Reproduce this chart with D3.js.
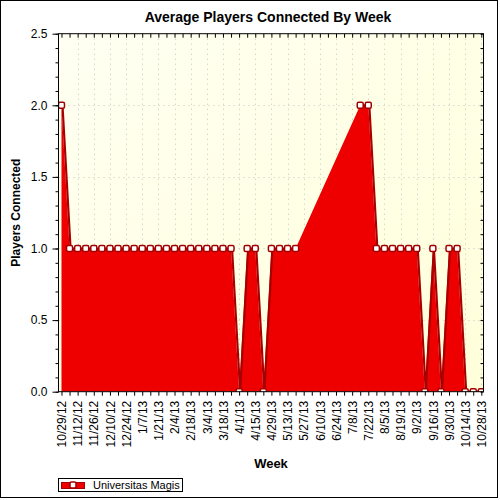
<!DOCTYPE html>
<html>
<head>
<meta charset="utf-8">
<script src="https://cdn.jsdelivr.net/npm/d3@7"></script>
<style>
  html, body { margin: 0; padding: 0; background: #fff; }
  svg { display: block; font-family: "Liberation Sans", Arial, sans-serif; }
</style>
</head>
<body>
<svg id="chart" width="500" height="500"></svg>
<script>
const weekLabels = ["10/29/12","11/5/12","11/12/12","11/19/12","11/26/12","12/3/12","12/10/12","12/17/12","12/24/12","12/31/12",
  "1/7/13","1/14/13","1/21/13","1/28/13","2/4/13","2/11/13","2/18/13","2/25/13","3/4/13","3/11/13","3/18/13","3/25/13",
  "4/1/13","4/8/13","4/15/13","4/22/13","4/29/13","5/6/13","5/13/13","5/20/13","5/27/13","6/3/13","6/10/13","6/17/13",
  "6/24/13","7/1/13","7/8/13","7/15/13","7/22/13","7/29/13","8/5/13","8/12/13","8/19/13","8/26/13","9/2/13","9/9/13",
  "9/16/13","9/23/13","9/30/13","10/7/13","10/14/13","10/21/13","10/28/13"];
const playerValues = [2,
  1,1,1,1,1,1,1,1,1,1,1,1,1,1,1,1,1,1,1,1,1,
  0, 1,1, 0, 1,1,1,1,
  null,null,null,null,null,null,null,
  2,2, 1,1,1,1,1,1, 0, 1, 0, 1,1, 0,0,0];
const yTickValues = [0, 0.5, 1.0, 1.5, 2.0, 2.5];
const seriesName = "Universitas Magis";
const chartTitle = "Average Players Connected By Week";
const xTitle = "Week";
const yTitle = "Players Connected";

const svg = d3.select("#chart");
const L = 58.5, R = 483.5, T = 33.7, B = 391.7;
const x = d3.scaleLinear().domain([-0.37, weekLabels.length - 1 + 0.27]).range([L, R]);
const y = d3.scaleLinear().domain([0, 2.5]).range([B, T]);

const allPts = playerValues.map((v, i) => ({i, v}));
const data = allPts.filter(d => d.v !== null);

// outer frame
svg.append("rect").attr("x", 0.5).attr("y", 0.5).attr("width", 497).attr("height", 497)
  .attr("fill", "#fff").attr("stroke", "#000");

// background gradient
const defs = svg.append("defs");
const g1 = defs.append("linearGradient").attr("id", "bg").attr("x1", 0).attr("y1", 0).attr("x2", 1).attr("y2", 1);
g1.append("stop").attr("offset", "0%").attr("stop-color", "#fffff2");
g1.append("stop").attr("offset", "100%").attr("stop-color", "#ffffda");
defs.append("clipPath").attr("id", "clip").append("rect")
  .attr("x", L).attr("y", T).attr("width", R - L).attr("height", B - T);

svg.append("rect").attr("x", L).attr("y", T).attr("width", R - L).attr("height", B - T).attr("fill", "url(#bg)");

// grid
const grid = svg.append("g").attr("stroke", "#c4c4c4").attr("stroke-width", 1).attr("stroke-dasharray", "1,4");
d3.range(2, weekLabels.length, 2).forEach(i => {
  grid.append("line").attr("x1", Math.round(x(i)) + 0.5).attr("x2", Math.round(x(i)) + 0.5).attr("y1", T).attr("y2", B);
});
yTickValues.slice(1, -1).forEach(v => {
  grid.append("line").attr("x1", L).attr("x2", R).attr("y1", Math.round(y(v)) + 0.5).attr("y2", Math.round(y(v)) + 0.5);
});

// area + border line (no border across empty points)
const plot = svg.append("g").attr("clip-path", "url(#clip)");
const area = d3.area().x(d => x(d.i)).y0(y(0)).y1(d => y(d.v));
const line = d3.line().defined(d => d.v !== null).x(d => x(d.i)).y(d => y(d.v));
plot.append("path").datum(data).attr("d", area).attr("fill", "#ee0000");
plot.append("path").datum(allPts).attr("d", line).attr("fill", "none")
  .attr("stroke", "#a80000").attr("stroke-width", 2.2).attr("transform", "translate(1,0)");

// markers
plot.selectAll("rect.m").data(data).join("rect").attr("class", "m")
  .attr("x", d => x(d.i) - 3).attr("y", d => y(d.v) - 3)
  .attr("width", 6).attr("height", 6).attr("rx", 1.5)
  .attr("fill", "#fff").attr("stroke", "#a00000").attr("stroke-width", 1.5);

// plot border
svg.append("rect").attr("x", L).attr("y", T).attr("width", R - L).attr("height", B - T)
  .attr("fill", "none").attr("stroke", "#000");

// x axis (bottom)
const xAxis = d3.axisBottom(x).tickValues(d3.range(0, weekLabels.length)).tickSize(4)
  .tickFormat(i => i % 2 === 0 ? weekLabels[i] : "");
const gx = svg.append("g").attr("transform", `translate(0,${B})`).call(xAxis);
gx.select(".domain").remove();
gx.selectAll(".tick line").attr("stroke", "#000");
gx.selectAll(".tick text")
  .attr("font-size", 12).attr("fill", "#000")
  .attr("transform", "rotate(-90)")
  .attr("text-anchor", "end")
  .attr("x", -9).attr("y", 0).attr("dy", "0.35em");

// top ticks
const xTop = d3.axisTop(x).tickValues(d3.range(0, weekLabels.length)).tickSize(-4).tickFormat("");
const gt = svg.append("g").attr("transform", `translate(0,${T})`).call(xTop);
gt.select(".domain").remove();
gt.selectAll(".tick line").attr("stroke", "#000");

// y axis left
const yMinor = d3.range(0, 26).map(k => k / 10);
const yAxisMinor = d3.axisLeft(y).tickValues(yMinor).tickSize(3).tickFormat("");
const gym = svg.append("g").attr("transform", `translate(${L},0)`).call(yAxisMinor);
gym.select(".domain").remove();
gym.selectAll(".tick line").attr("stroke", "#000");
const yAxis = d3.axisLeft(y).tickValues(yTickValues).tickSize(6).tickPadding(5).tickFormat(d3.format(".1f"));
const gy = svg.append("g").attr("transform", `translate(${L},0)`).call(yAxis);
gy.select(".domain").remove();
gy.selectAll(".tick line").attr("stroke", "#000");
gy.selectAll(".tick text").attr("font-size", 12).attr("fill", "#000");

// y axis right ticks
const yRight = d3.axisRight(y).tickValues(yMinor).tickSize(-3).tickFormat("");
const gr = svg.append("g").attr("transform", `translate(${R},0)`).call(yRight);
gr.select(".domain").remove();
gr.selectAll(".tick line").attr("stroke", "#000");

// titles
svg.append("text").attr("x", 268).attr("y", 22).attr("text-anchor", "middle")
  .attr("font-size", 14).attr("font-weight", "bold").text(chartTitle);
svg.append("text").attr("x", 271).attr("y", 468).attr("text-anchor", "middle")
  .attr("font-size", 13).attr("font-weight", "bold").text(xTitle);
svg.append("text").attr("transform", `translate(20,${(T + B) / 2}) rotate(-90)`).attr("text-anchor", "middle")
  .attr("font-size", 12).attr("font-weight", "bold").text(yTitle);

// legend
const lg = svg.append("g");
lg.append("rect").attr("x", 58.5).attr("y", 478.5).attr("width", 124).attr("height", 13)
  .attr("fill", "#fff").attr("stroke", "#000");
lg.append("rect").attr("x", 61.5).attr("y", 482.5).attr("width", 23).attr("height", 6)
  .attr("fill", "#ee0000").attr("stroke", "#a80000");
lg.append("rect").attr("x", 70).attr("y", 482).attr("width", 6).attr("height", 6).attr("rx", 1.5)
  .attr("fill", "#fff").attr("stroke", "#a00000").attr("stroke-width", 1.5);
lg.append("text").attr("x", 93).attr("y", 489).attr("font-size", 11).attr("fill", "#000").text(seriesName);
</script>
</body>
</html>
